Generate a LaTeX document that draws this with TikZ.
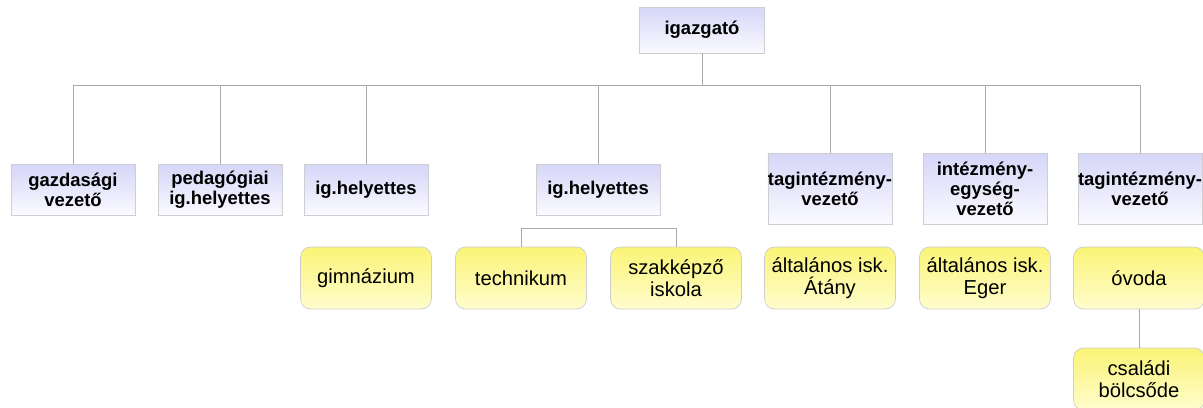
\documentclass[tikz,border=0pt]{standalone}
\usepackage{fontspec}
\setmainfont{Liberation Sans}
\usepackage{tikz}

\definecolor{lila}{RGB}{214,214,248}
\definecolor{lilabot}{RGB}{250,250,255}
\definecolor{sarga}{RGB}{250,244,118}
\definecolor{sargabot}{RGB}{255,253,205}
\definecolor{keret}{RGB}{205,205,210}
\definecolor{vonal}{RGB}{170,170,170}

\begin{document}
\begin{tikzpicture}[x=0.02cm,y=-0.02cm]
            \tikzstyle{every node}+=[inner sep=0pt]
            \tikzstyle{vezeto}=[draw=keret, top color=lila, bottom color=lilabot,
                minimum width=2.48cm, minimum height=1.02cm, align=center,
                font=\fontsize{10.5}{11.5}\selectfont\bfseries]
            \tikzstyle{magas}=[vezeto, minimum height=1.42cm]
            \tikzstyle{egyseg}=[draw=keret, top color=sarga, bottom color=sargabot,
                rounded corners=0.2cm, minimum width=2.62cm, minimum height=1.24cm,
                align=center, font=\fontsize{11.5}{12.5}\selectfont]
            \tikzstyle{kapcs}=[draw=vonal, line width=0.5pt]
            \useasboundingbox (0,0) rectangle (1203,407);
            % vezetoi szint
            \node [vezeto, minimum width=2.5cm, minimum height=0.92cm] (igazg) at (702,30) {igazgató};
            \node [vezeto] (gazd) at (73,190) {gazdasági\\vezető};
            \node [vezeto] (ped) at (220,190) {pedagógiai\\ig.helyettes};
            \node [vezeto] (ighA) at (366,190) {ig.helyettes};
            \node [vezeto] (ighB) at (598,190) {ig.helyettes};
            \node [magas] (tagA) at (830,189) {tagintézmény-\\vezető};
            \node [magas] (intez) at (985,189) {intézmény-\\egység-\\vezető};
            \node [magas] (tagB) at (1140,189) {tagintézmény-\\vezető};
            % intezmenyek
            \node [egyseg] (gimn) at (366,278) {gimnázium};
            \node [egyseg] (techn) at (521,278) {technikum};
            \node [egyseg] (szakk) at (676,278) {szakképző\\iskola};
            \node [egyseg] (atany) at (830,278) {általános isk.\\Átány};
            \node [egyseg] (eger) at (985,278) {általános isk.\\Eger};
            \node [egyseg] (ovoda) at (1139,278) {óvoda};
            \node [egyseg] (bolcs) at (1139,379) {családi\\bölcsőde};
            % vonalak
            \coordinate (sin) at (702,85);
            \coordinate (techsin) at (598,228);
            \draw [kapcs] (igazg.south) -- (sin);
            \foreach \n in {gazd,ped,ighA,ighB,tagA,intez,tagB}
                \draw [kapcs] (\n.north) |- (sin);
            \draw [kapcs] (techn.north) |- (techsin) -| (szakk.north);
            \draw [kapcs] (ovoda.south) -- (bolcs.north);
\end{tikzpicture}
\end{document}
